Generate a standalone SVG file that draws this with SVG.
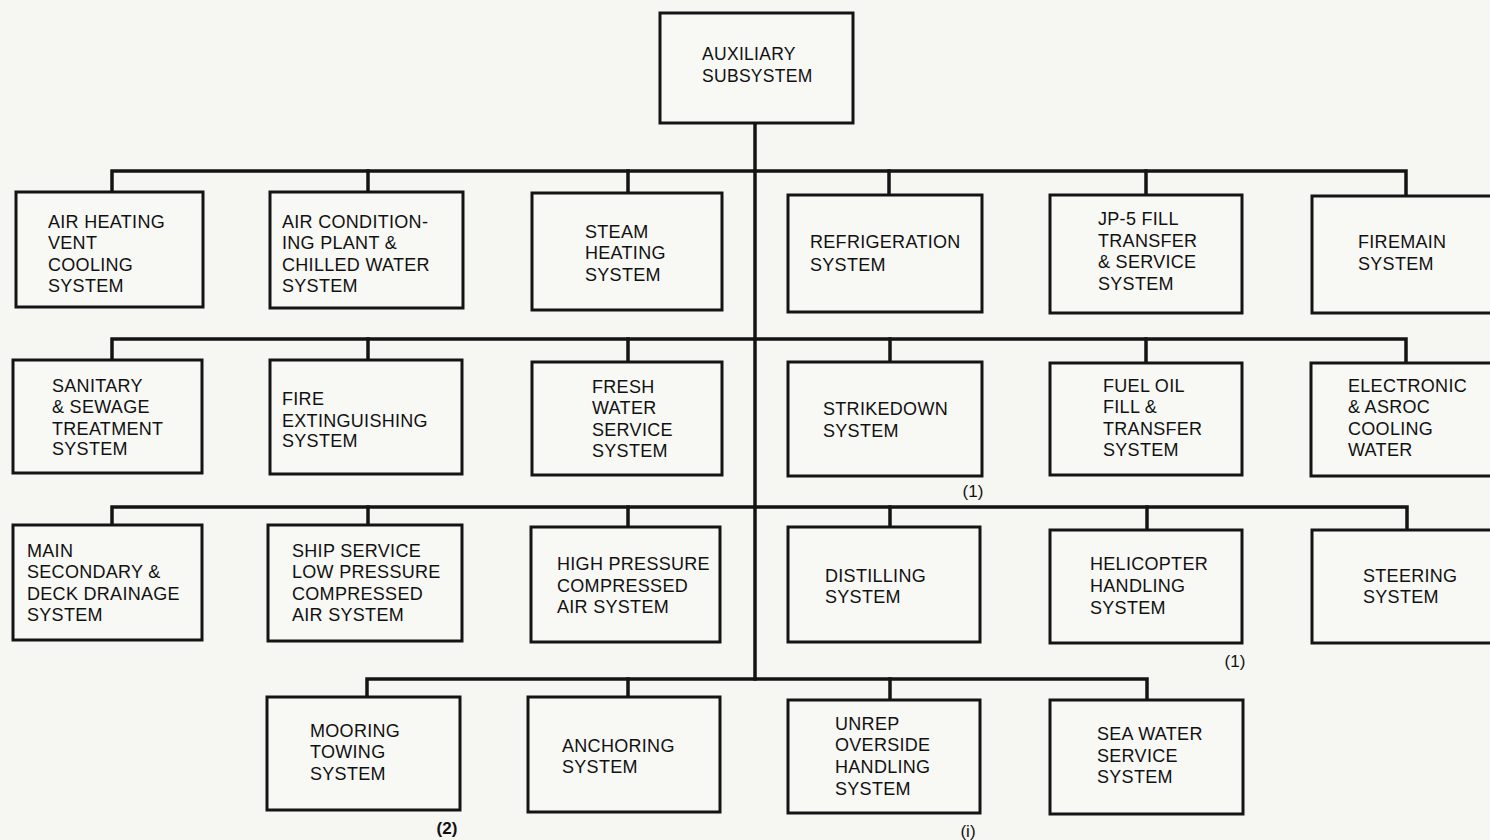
<svg xmlns="http://www.w3.org/2000/svg" width="1490" height="840" viewBox="0 0 1490 840">
  <style>
    .bg { fill: #f6f6f2; }
    .box { fill: #f8f8f5; stroke: #141414; stroke-width: 3; }
    .wire { fill: none; stroke: #141414; stroke-width: 3.5; stroke-linecap: square; }
    .lbl { font-family: "Liberation Sans", Arial, sans-serif; font-size: 18px; fill: #111; letter-spacing: 0.3px; }
    .top { font-size: 17.5px; }
    .note { font-family: "Liberation Sans", Arial, sans-serif; font-size: 17px; fill: #111; text-anchor: middle; }
    .bold { font-weight: bold; }
  </style>
  <rect class="bg" x="0" y="0" width="1490" height="840"/>

  <!-- connectors: trunk, row buses and drops to each box -->
  <g id="connectors">
    <path class="wire" d="M755 123 V679"/>
    <!-- row 1 -->
    <path class="wire" d="M112 192 V171 H1406 V196"/>
    <path class="wire" d="M368 171 V192 M628 171 V193 M889 171 V195 M1146 171 V195"/>
    <!-- row 2 -->
    <path class="wire" d="M112 360 V339 H1406 V363"/>
    <path class="wire" d="M368 339 V360 M628 339 V362 M890 339 V362 M1146 339 V363"/>
    <!-- row 3 -->
    <path class="wire" d="M112 525 V507 H1407 V530"/>
    <path class="wire" d="M368 507 V525 M628 507 V527 M890 507 V527 M1147 507 V530"/>
    <!-- row 4 -->
    <path class="wire" d="M367 697 V679 H1147 V700"/>
    <path class="wire" d="M628 679 V697 M890 679 V700"/>
  </g>

  <g id="auxiliary-subsystem">
    <rect class="box" x="660" y="13" width="193" height="110"/>
    <text class="lbl top" x="702" y="60">AUXILIARY</text>
    <text class="lbl top" x="702" y="82">SUBSYSTEM</text>
  </g>

  <!-- row 1 -->
  <g id="air-heating">
    <rect class="box" x="16" y="192" width="187" height="115"/>
    <text class="lbl" x="48" y="228">AIR HEATING</text>
    <text class="lbl" x="48" y="249">VENT</text>
    <text class="lbl" x="48" y="271">COOLING</text>
    <text class="lbl" x="48" y="292">SYSTEM</text>
  </g>
  <g id="air-conditioning">
    <rect class="box" x="270" y="192" width="193" height="116"/>
    <text class="lbl" x="282" y="228">AIR CONDITION-</text>
    <text class="lbl" x="282" y="249">ING PLANT &amp;</text>
    <text class="lbl" x="282" y="271">CHILLED WATER</text>
    <text class="lbl" x="282" y="292">SYSTEM</text>
  </g>
  <g id="steam-heating">
    <rect class="box" x="532" y="193" width="190" height="117"/>
    <text class="lbl" x="585" y="238">STEAM</text>
    <text class="lbl" x="585" y="259">HEATING</text>
    <text class="lbl" x="585" y="281">SYSTEM</text>
  </g>
  <g id="refrigeration">
    <rect class="box" x="788" y="195" width="194" height="117"/>
    <text class="lbl" x="810" y="248">REFRIGERATION</text>
    <text class="lbl" x="810" y="271">SYSTEM</text>
  </g>
  <g id="jp5-fill">
    <rect class="box" x="1050" y="195" width="192" height="118"/>
    <text class="lbl" x="1098" y="225">JP-5 FILL</text>
    <text class="lbl" x="1098" y="247">TRANSFER</text>
    <text class="lbl" x="1098" y="268">&amp; SERVICE</text>
    <text class="lbl" x="1098" y="290">SYSTEM</text>
  </g>
  <g id="firemain">
    <rect class="box" x="1312" y="196" width="190" height="117"/>
    <text class="lbl" x="1358" y="248">FIREMAIN</text>
    <text class="lbl" x="1358" y="270">SYSTEM</text>
  </g>

  <!-- row 2 -->
  <g id="sanitary-sewage">
    <rect class="box" x="13" y="360" width="189" height="113"/>
    <text class="lbl" x="52" y="392">SANITARY</text>
    <text class="lbl" x="52" y="413">&amp; SEWAGE</text>
    <text class="lbl" x="52" y="435">TREATMENT</text>
    <text class="lbl" x="52" y="455">SYSTEM</text>
  </g>
  <g id="fire-extinguishing">
    <rect class="box" x="270" y="360" width="192" height="114"/>
    <text class="lbl" x="282" y="405">FIRE</text>
    <text class="lbl" x="282" y="427">EXTINGUISHING</text>
    <text class="lbl" x="282" y="447">SYSTEM</text>
  </g>
  <g id="fresh-water">
    <rect class="box" x="532" y="362" width="190" height="113"/>
    <text class="lbl" x="592" y="393">FRESH</text>
    <text class="lbl" x="592" y="414">WATER</text>
    <text class="lbl" x="592" y="436">SERVICE</text>
    <text class="lbl" x="592" y="457">SYSTEM</text>
  </g>
  <g id="strikedown">
    <rect class="box" x="788" y="362" width="194" height="114"/>
    <text class="lbl" x="823" y="415">STRIKEDOWN</text>
    <text class="lbl" x="823" y="437">SYSTEM</text>
    <text class="note" x="973" y="497">(1)</text>
  </g>
  <g id="fuel-oil">
    <rect class="box" x="1050" y="363" width="192" height="112"/>
    <text class="lbl" x="1103" y="392">FUEL OIL</text>
    <text class="lbl" x="1103" y="413">FILL &amp;</text>
    <text class="lbl" x="1103" y="435">TRANSFER</text>
    <text class="lbl" x="1103" y="456">SYSTEM</text>
  </g>
  <g id="electronic-asroc">
    <rect class="box" x="1311" y="363" width="190" height="113"/>
    <text class="lbl" x="1348" y="392">ELECTRONIC</text>
    <text class="lbl" x="1348" y="413">&amp; ASROC</text>
    <text class="lbl" x="1348" y="435">COOLING</text>
    <text class="lbl" x="1348" y="456">WATER</text>
  </g>

  <!-- row 3 -->
  <g id="drainage">
    <rect class="box" x="13" y="525" width="189" height="115"/>
    <text class="lbl" x="27" y="557">MAIN</text>
    <text class="lbl" x="27" y="578">SECONDARY &amp;</text>
    <text class="lbl" x="27" y="600">DECK DRAINAGE</text>
    <text class="lbl" x="27" y="621">SYSTEM</text>
  </g>
  <g id="lp-air">
    <rect class="box" x="268" y="525" width="194" height="116"/>
    <text class="lbl" x="292" y="557">SHIP SERVICE</text>
    <text class="lbl" x="292" y="578">LOW PRESSURE</text>
    <text class="lbl" x="292" y="600">COMPRESSED</text>
    <text class="lbl" x="292" y="621">AIR SYSTEM</text>
  </g>
  <g id="hp-air">
    <rect class="box" x="531" y="527" width="189" height="115"/>
    <text class="lbl" x="557" y="570">HIGH PRESSURE</text>
    <text class="lbl" x="557" y="592">COMPRESSED</text>
    <text class="lbl" x="557" y="613">AIR SYSTEM</text>
  </g>
  <g id="distilling">
    <rect class="box" x="788" y="527" width="192" height="115"/>
    <text class="lbl" x="825" y="582">DISTILLING</text>
    <text class="lbl" x="825" y="603">SYSTEM</text>
  </g>
  <g id="helicopter">
    <rect class="box" x="1050" y="530" width="192" height="113"/>
    <text class="lbl" x="1090" y="570">HELICOPTER</text>
    <text class="lbl" x="1090" y="592">HANDLING</text>
    <text class="lbl" x="1090" y="614">SYSTEM</text>
    <text class="note" x="1235" y="667">(1)</text>
  </g>
  <g id="steering">
    <rect class="box" x="1312" y="530" width="190" height="113"/>
    <text class="lbl" x="1363" y="582">STEERING</text>
    <text class="lbl" x="1363" y="603">SYSTEM</text>
  </g>

  <!-- row 4 -->
  <g id="mooring">
    <rect class="box" x="267" y="697" width="193" height="113"/>
    <text class="lbl" x="310" y="737">MOORING</text>
    <text class="lbl" x="310" y="758">TOWING</text>
    <text class="lbl" x="310" y="780">SYSTEM</text>
    <text class="note bold" x="447" y="834">(2)</text>
  </g>
  <g id="anchoring">
    <rect class="box" x="528" y="697" width="192" height="115"/>
    <text class="lbl" x="562" y="752">ANCHORING</text>
    <text class="lbl" x="562" y="773">SYSTEM</text>
  </g>
  <g id="unrep">
    <rect class="box" x="788" y="700" width="192" height="113"/>
    <text class="lbl" x="835" y="730">UNREP</text>
    <text class="lbl" x="835" y="751">OVERSIDE</text>
    <text class="lbl" x="835" y="773">HANDLING</text>
    <text class="lbl" x="835" y="795">SYSTEM</text>
    <text class="note" x="968" y="837">(i)</text>
  </g>
  <g id="sea-water">
    <rect class="box" x="1050" y="700" width="193" height="114"/>
    <text class="lbl" x="1097" y="740">SEA WATER</text>
    <text class="lbl" x="1097" y="762">SERVICE</text>
    <text class="lbl" x="1097" y="783">SYSTEM</text>
  </g>
</svg>
